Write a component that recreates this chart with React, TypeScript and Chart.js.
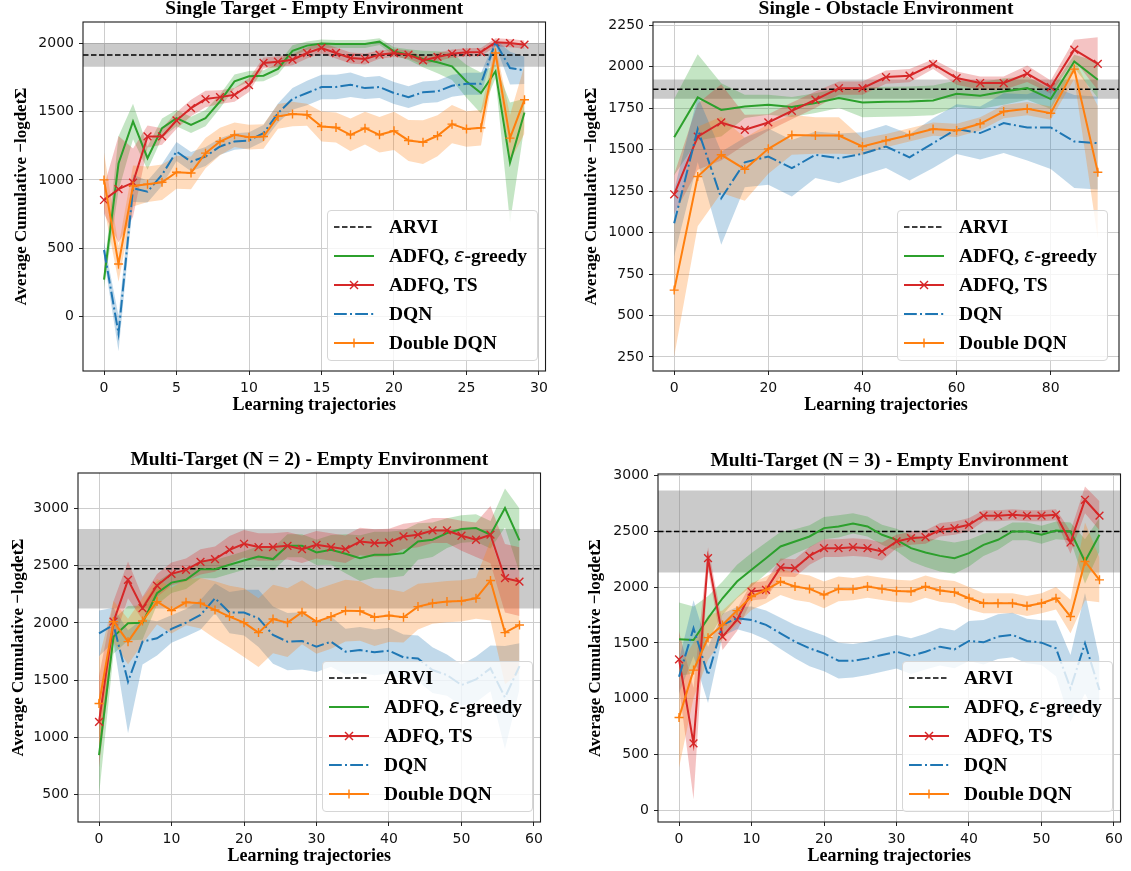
import React, { useEffect, useRef } from 'react';
import { Chart, registerables } from 'chart.js';
Chart.register(...registerables);

// ---------- shared labels ----------
const LEGEND_LABELS = ['ARVI', 'ADFQ, ε-greedy', 'ADFQ, TS', 'DQN', 'Double DQN'];
const X_TITLE = 'Learning trajectories';
const Y_TITLE = 'Average Cumulative −logdetΣ';

// ---------- Panel 1: Single Target - Empty Environment ----------
const P1_TITLE = 'Single Target - Empty Environment';
const P1_X = [0, 1, 2, 3, 4, 5, 6, 7, 8, 9, 10, 11, 12, 13, 14, 15, 16, 17, 18, 19, 20, 21, 22, 23, 24, 25, 26, 27, 28, 29];
const P1_GREEN = [270, 1120, 1428, 1159, 1379, 1452, 1403, 1452, 1575, 1721, 1758, 1763, 1812, 1945, 1983, 1998, 1995, 1995, 1995, 2012, 1941, 1917, 1885, 1861, 1831, 1721, 1636, 1795, 1127, 1494];
const P1_GREEN_SD = [60, 200, 130, 85, 70, 60, 60, 60, 50, 50, 40, 40, 40, 40, 30, 30, 30, 30, 30, 25, 30, 40, 60, 80, 100, 120, 150, 50, 440, 100];
const P1_RED = [853, 932, 980, 1318, 1318, 1435, 1526, 1592, 1606, 1623, 1694, 1856, 1865, 1880, 1929, 1966, 1929, 1892, 1885, 1917, 1929, 1917, 1875, 1900, 1924, 1934, 1936, 2007, 2002, 1990];
const P1_RED_SD = [100, 390, 250, 80, 60, 60, 60, 60, 50, 50, 50, 40, 40, 40, 40, 40, 40, 40, 40, 30, 30, 30, 30, 30, 30, 30, 30, 30, 30, 30];
const P1_BLUE = [487, -125, 939, 914, 1037, 1208, 1134, 1171, 1245, 1281, 1289, 1342, 1489, 1593, 1636, 1680, 1680, 1697, 1672, 1680, 1636, 1606, 1641, 1648, 1689, 1704, 1704, 2007, 1819, 1802];
const P1_BLUE_SD = [60, 130, 100, 80, 80, 70, 70, 70, 60, 60, 60, 60, 70, 80, 90, 90, 90, 90, 80, 80, 80, 80, 80, 80, 80, 80, 80, 20, 120, 100];
const P1_ORANGE = [1000, 384, 956, 968, 983, 1056, 1051, 1196, 1281, 1330, 1313, 1318, 1465, 1482, 1477, 1391, 1384, 1330, 1379, 1330, 1359, 1289, 1276, 1323, 1408, 1372, 1381, 1929, 1306, 1587];
const P1_ORANGE_SD = [200, 130, 150, 130, 130, 120, 120, 110, 100, 90, 90, 90, 90, 90, 80, 110, 110, 120, 120, 130, 140, 150, 160, 150, 140, 130, 130, 60, 170, 250];
const P1_ARVI = 1915;
const P1_ARVI_SD = 87;
const P1_X_TICKS = [0, 5, 10, 15, 20, 25, 30];
const P1_Y_TICKS = [0, 500, 1000, 1500, 2000];
const P1_X_RANGE = [-1.45, 30.45];
const P1_Y_RANGE = [-399, 2156];

// ---------- Panel 2: Single - Obstacle Environment ----------
const P2_TITLE = 'Single - Obstacle Environment';
const P2_X = [0, 5, 10, 15, 20, 25, 30, 35, 40, 45, 50, 55, 60, 65, 70, 75, 80, 85, 90];
const P2_GREEN = [1575, 1815, 1740, 1761, 1771, 1757, 1781, 1811, 1785, 1789, 1791, 1797, 1837, 1825, 1851, 1871, 1805, 2032, 1922];
const P2_GREEN_SD = [230, 260, 160, 70, 60, 60, 60, 60, 90, 90, 90, 90, 80, 80, 80, 70, 60, 40, 110];
const P2_RED = [1231, 1579, 1664, 1620, 1664, 1734, 1801, 1871, 1871, 1938, 1946, 2016, 1932, 1902, 1902, 1958, 1877, 2103, 2018];
const P2_RED_SD = [120, 200, 230, 90, 50, 50, 50, 40, 40, 40, 40, 30, 40, 40, 40, 50, 40, 60, 160];
const P2_BLUE = [1056, 1624, 1207, 1424, 1458, 1388, 1469, 1448, 1475, 1519, 1454, 1539, 1624, 1600, 1660, 1634, 1634, 1549, 1539];
const P2_BLUE_SD = [200, 200, 280, 150, 170, 170, 140, 150, 130, 130, 140, 150, 150, 160, 180, 200, 250, 280, 280];
const P2_ORANGE = [653, 1338, 1469, 1382, 1505, 1589, 1585, 1585, 1519, 1555, 1589, 1624, 1616, 1656, 1730, 1747, 1720, 1986, 1364];
const P2_ORANGE_SD = [400, 300, 230, 190, 150, 120, 110, 110, 50, 40, 40, 40, 40, 40, 40, 40, 40, 60, 400];
const P2_ARVI = 1865;
const P2_ARVI_SD = 58;
const P2_X_TICKS = [0, 20, 40, 60, 80];
const P2_Y_TICKS = [250, 500, 750, 1000, 1250, 1500, 1750, 2000, 2250];
const P2_X_RANGE = [-4.5, 94.5];
const P2_Y_RANGE = [165, 2270];

// ---------- Panel 3: Multi-Target (N = 2) ----------
const P3_TITLE = 'Multi-Target (N = 2) - Empty Environment';
const P3_X = [0, 2, 4, 6, 8, 10, 12, 14, 16, 18, 20, 22, 24, 26, 28, 30, 32, 34, 36, 38, 40, 42, 44, 46, 48, 50, 52, 54, 56, 58];
const P3_GREEN = [844, 1880, 1997, 2002, 2259, 2352, 2376, 2469, 2469, 2507, 2545, 2580, 2557, 2673, 2673, 2615, 2638, 2603, 2565, 2595, 2595, 2609, 2711, 2726, 2784, 2819, 2828, 2770, 3003, 2720];
const P3_GREEN_SD = [350, 150, 150, 150, 100, 90, 80, 80, 80, 80, 80, 90, 100, 100, 100, 110, 130, 170, 200, 200, 200, 200, 160, 150, 130, 120, 120, 120, 170, 280];
const P3_RED = [1136, 2011, 2376, 2128, 2326, 2428, 2463, 2533, 2557, 2638, 2691, 2662, 2662, 2673, 2644, 2682, 2662, 2644, 2711, 2697, 2702, 2755, 2770, 2807, 2807, 2761, 2726, 2770, 2390, 2361];
const P3_RED_SD = [400, 180, 160, 100, 100, 100, 100, 110, 110, 120, 120, 120, 120, 120, 120, 120, 120, 120, 120, 120, 120, 110, 110, 110, 110, 130, 150, 250, 300, 300];
const P3_BLUE = [1909, 1982, 1486, 1836, 1865, 1947, 2002, 2069, 2215, 2090, 2090, 2040, 1894, 1836, 1842, 1792, 1836, 1749, 1763, 1743, 1757, 1699, 1690, 1588, 1544, 1457, 1506, 1603, 1349, 1623];
const P3_BLUE_SD = [200, 150, 450, 200, 150, 120, 120, 130, 130, 180, 200, 250, 250, 250, 250, 220, 220, 200, 200, 200, 200, 200, 200, 200, 180, 180, 200, 200, 450, 200];
const P3_ORANGE = [1296, 2011, 1836, 2017, 2186, 2107, 2180, 2172, 2113, 2055, 2002, 1915, 2034, 2002, 2093, 2011, 2055, 2107, 2104, 2049, 2064, 2049, 2142, 2172, 2186, 2192, 2215, 2370, 1915, 1982];
const P3_ORANGE_SD = [400, 180, 200, 200, 200, 200, 200, 220, 250, 270, 300, 300, 300, 300, 280, 280, 280, 270, 260, 250, 230, 220, 200, 180, 180, 180, 180, 350, 450, 420];
const P3_ARVI = 2472;
const P3_ARVI_SD = 347;
const P3_X_TICKS = [0, 10, 20, 30, 40, 50, 60];
const P3_Y_TICKS = [500, 1000, 1500, 2000, 2500, 3000];
const P3_X_RANGE = [-2.9, 60.9];
const P3_Y_RANGE = [261, 3309];

// ---------- Panel 4: Multi-Target (N = 3) ----------
const P4_TITLE = 'Multi-Target (N = 3) - Empty Environment';
const P4_X = [0, 2, 4, 6, 8, 10, 12, 14, 16, 18, 20, 22, 24, 26, 28, 30, 32, 34, 36, 38, 40, 42, 44, 46, 48, 50, 52, 54, 56, 58];
const P4_GREEN = [1533, 1527, 1722, 1901, 2051, 2156, 2260, 2365, 2410, 2455, 2530, 2545, 2572, 2545, 2470, 2425, 2350, 2311, 2281, 2260, 2305, 2380, 2425, 2500, 2500, 2470, 2509, 2500, 2231, 2470];
const P4_GREEN_SD = [330, 300, 200, 150, 150, 150, 140, 130, 110, 100, 100, 100, 90, 90, 90, 100, 120, 130, 140, 140, 120, 100, 90, 80, 80, 80, 80, 80, 200, 150];
const P4_RED = [1353, 599, 2260, 1557, 1707, 1961, 1976, 2177, 2171, 2281, 2350, 2350, 2359, 2350, 2320, 2410, 2440, 2449, 2515, 2530, 2560, 2641, 2641, 2650, 2641, 2641, 2650, 2401, 2784, 2641];
const P4_RED_SD = [250, 500, 100, 120, 100, 80, 80, 80, 80, 80, 80, 80, 80, 80, 80, 60, 60, 60, 60, 60, 60, 50, 50, 50, 50, 50, 50, 100, 120, 130];
const P4_BLUE = [1198, 1632, 1213, 1662, 1722, 1707, 1662, 1587, 1512, 1452, 1407, 1341, 1340, 1362, 1392, 1422, 1383, 1422, 1467, 1443, 1518, 1506, 1557, 1572, 1518, 1503, 1452, 1093, 1497, 1078];
const P4_BLUE_SD = [150, 250, 250, 100, 100, 120, 130, 140, 150, 160, 160, 160, 150, 150, 150, 150, 160, 160, 170, 170, 180, 200, 200, 200, 200, 200, 250, 300, 450, 280];
const P4_ORANGE = [832, 1257, 1548, 1662, 1790, 1916, 1976, 2051, 2006, 1985, 1931, 1985, 1982, 2006, 1985, 1967, 1961, 2006, 1970, 1955, 1901, 1856, 1856, 1856, 1832, 1856, 1901, 1737, 2231, 2066];
const P4_ORANGE_SD = [450, 250, 200, 130, 120, 120, 120, 120, 120, 120, 120, 110, 100, 100, 100, 100, 100, 100, 100, 100, 100, 90, 90, 90, 90, 90, 100, 150, 350, 200];
const P4_ARVI = 2500;
const P4_ARVI_SD = 367;
const P4_X_TICKS = [0, 10, 20, 30, 40, 50, 60];
const P4_Y_TICKS = [0, 500, 1000, 1500, 2000, 2500, 3000];
const P4_X_RANGE = [-2.9, 60.9];
const P4_Y_RANGE = [-105, 3015];

// ---------- styles ----------
const C_GREEN = '#2ca02c';
const C_RED = '#d62728';
const C_BLUE = '#1f77b4';
const C_ORANGE = '#ff7f0e';
const BAND_ALPHA = 0.28;
const SERIF = '"Liberation Serif", "Times New Roman", serif';
const SANS = '"DejaVu Sans", sans-serif';

function rgba(hex: string, a: number) {
  const n = parseInt(hex.slice(1), 16);
  return `rgba(${(n >> 16) & 255},${(n >> 8) & 255},${n & 255},${a})`;
}

type PanelDef = {
  title: string;
  x: number[];
  green: number[]; greenSd: number[];
  red: number[]; redSd: number[];
  blue: number[]; blueSd: number[];
  orange: number[]; orangeSd: number[];
  arvi: number; arviSd: number;
  xTicks: number[]; yTicks: number[];
  xRange: number[]; yRange: number[];
  area: { L: number; T: number; R: number; B: number };
  yTitlePad: number;
};

const PANELS: PanelDef[] = [
  { title: P1_TITLE, x: P1_X, green: P1_GREEN, greenSd: P1_GREEN_SD, red: P1_RED, redSd: P1_RED_SD, blue: P1_BLUE, blueSd: P1_BLUE_SD, orange: P1_ORANGE, orangeSd: P1_ORANGE_SD, arvi: P1_ARVI, arviSd: P1_ARVI_SD, xTicks: P1_X_TICKS, yTicks: P1_Y_TICKS, xRange: P1_X_RANGE, yRange: P1_Y_RANGE, area: { L: 83, T: 22, R: 549, B: 371 }, yTitlePad: 10.8 },
  { title: P2_TITLE, x: P2_X, green: P2_GREEN, greenSd: P2_GREEN_SD, red: P2_RED, redSd: P2_RED_SD, blue: P2_BLUE, blueSd: P2_BLUE_SD, orange: P2_ORANGE, orangeSd: P2_ORANGE_SD, arvi: P2_ARVI, arviSd: P2_ARVI_SD, xTicks: P2_X_TICKS, yTicks: P2_Y_TICKS, xRange: P2_X_RANGE, yRange: P2_Y_RANGE, area: { L: 653, T: 22, R: 1119, B: 371 }, yTitlePad: 10.3 },
  { title: P3_TITLE, x: P3_X, green: P3_GREEN, greenSd: P3_GREEN_SD, red: P3_RED, redSd: P3_RED_SD, blue: P3_BLUE, blueSd: P3_BLUE_SD, orange: P3_ORANGE, orangeSd: P3_ORANGE_SD, arvi: P3_ARVI, arviSd: P3_ARVI_SD, xTicks: P3_X_TICKS, yTicks: P3_Y_TICKS, xRange: P3_X_RANGE, yRange: P3_Y_RANGE, area: { L: 78, T: 473, R: 544, B: 822 }, yTitlePad: 12.3 },
  { title: P4_TITLE, x: P4_X, green: P4_GREEN, greenSd: P4_GREEN_SD, red: P4_RED, redSd: P4_RED_SD, blue: P4_BLUE, blueSd: P4_BLUE_SD, orange: P4_ORANGE, orangeSd: P4_ORANGE_SD, arvi: P4_ARVI, arviSd: P4_ARVI_SD, xTicks: P4_X_TICKS, yTicks: P4_Y_TICKS, xRange: P4_X_RANGE, yRange: P4_Y_RANGE, area: { L: 658, T: 474, R: 1124, B: 822 }, yTitlePad: 9.8 },
];

const YW = 82; // y-axis box width
const XH = 45; // x-axis box height
const TH = 23; // title box height
const PR = 4; // right padding

const framePlugin = {
  id: 'frame',
  afterDraw(chart: any) {
    const { ctx, chartArea: a } = chart;
    ctx.save();
    ctx.strokeStyle = '#1a1a1a';
    ctx.lineWidth = 1.1;
    ctx.strokeRect(a.left, a.top, a.right - a.left, a.bottom - a.top);
    ctx.restore();
  },
};

function PanelChart({ p }: { p: PanelDef }) {
  const ref = useRef<HTMLCanvasElement>(null);
  const left = p.area.L - YW;
  const top = p.area.T - TH;
  const width = YW + (p.area.R - p.area.L) + PR;
  const height = TH + (p.area.B - p.area.T) + XH;

  useEffect(() => {
    if (!ref.current) return;
    const pts = (ys: number[]) => p.x.map((x, i) => ({ x, y: ys[i] }));
    const band = (mean: number[], sd: number[], color: string, order: number) => [
      {
        label: '_band_hi', data: p.x.map((x, i) => ({ x, y: mean[i] + sd[i] })),
        fill: '+1', backgroundColor: rgba(color, BAND_ALPHA), borderColor: 'transparent',
        borderWidth: 0, pointRadius: 0, order,
      },
      {
        label: '_band_lo', data: p.x.map((x, i) => ({ x, y: mean[i] - sd[i] })),
        fill: false, borderColor: 'transparent', borderWidth: 0, pointRadius: 0, order,
      },
    ];
    const flat = (v: number) => [{ x: p.xRange[0], y: v }, { x: p.xRange[1], y: v }];
    const datasets: any[] = [
      {
        label: '_arvi_hi', data: flat(p.arvi + p.arviSd), fill: '+1',
        backgroundColor: 'rgba(128,128,128,0.42)', borderColor: 'transparent', borderWidth: 0, pointRadius: 0, order: 30,
      },
      {
        label: '_arvi_lo', data: flat(p.arvi - p.arviSd), fill: false,
        borderColor: 'transparent', borderWidth: 0, pointRadius: 0, order: 30,
      },
      ...band(p.green, p.greenSd, C_GREEN, 25),
      ...band(p.red, p.redSd, C_RED, 24),
      ...band(p.blue, p.blueSd, C_BLUE, 23),
      ...band(p.orange, p.orangeSd, C_ORANGE, 22),
      {
        label: LEGEND_LABELS[0], data: flat(p.arvi), borderColor: '#000', borderWidth: 1.5,
        borderDash: [5.5, 2.5], pointRadius: 0, fill: false, order: 6,
      },
      {
        label: LEGEND_LABELS[1], data: pts(p.green), borderColor: C_GREEN, borderWidth: 2,
        pointRadius: 0, fill: false, order: 5,
      },
      {
        label: LEGEND_LABELS[2], data: pts(p.red), borderColor: C_RED, borderWidth: 2,
        pointStyle: 'crossRot', pointRadius: 5.5, pointBorderWidth: 1.4, pointBorderColor: C_RED,
        pointBackgroundColor: C_RED, fill: false, order: 4,
      },
      {
        label: LEGEND_LABELS[3], data: pts(p.blue), borderColor: C_BLUE, borderWidth: 2,
        borderDash: [12.8, 3.2, 2, 3.2], pointRadius: 0, fill: false, order: 3,
      },
      {
        label: LEGEND_LABELS[4], data: pts(p.orange), borderColor: C_ORANGE, borderWidth: 2,
        pointStyle: 'cross', pointRadius: 4.5, pointBorderWidth: 1.4, pointBorderColor: C_ORANGE,
        pointBackgroundColor: C_ORANGE, fill: false, order: 2,
      },
    ];

    const chart = new Chart(ref.current, {
      type: 'line',
      data: { datasets },
      plugins: [framePlugin],
      options: {
        responsive: false,
        animation: false,
        events: [],
        devicePixelRatio: 1,
        layout: { padding: { left: 0, top: 0, bottom: 0, right: PR }, autoPadding: false },
        elements: { line: { tension: 0 } },
        plugins: {
          legend: { display: false },
          tooltip: { enabled: false },
          title: {
            display: true, text: p.title, fullSize: false, color: '#000',
            font: { family: SERIF, weight: 'bold', size: 19.5, lineHeight: 1 },
            padding: { top: 0, bottom: TH - 19.5 },
          },
        },
        scales: {
          x: {
            type: 'linear', min: p.xRange[0], max: p.xRange[1],
            afterBuildTicks: (axis: any) => { axis.ticks = p.xTicks.map((value) => ({ value })); },
            afterFit: (axis: any) => { axis.height = XH; },
            ticks: {
              autoSkip: false, maxRotation: 0, padding: 5, color: '#111',
              font: { family: SANS, size: 14 },
              callback: (v: any) => String(v),
            },
            grid: { color: '#cdcdcd', lineWidth: 1, tickColor: '#222', tickLength: 4, tickWidth: 1 },
            border: { display: false },
            title: {
              display: true, text: X_TITLE, color: '#000',
              font: { family: SERIF, weight: 'bold', size: 18, lineHeight: 1.2 },
              padding: { top: 0, bottom: 0 },
            },
          },
          y: {
            type: 'linear', min: p.yRange[0], max: p.yRange[1],
            afterBuildTicks: (axis: any) => { axis.ticks = p.yTicks.map((value) => ({ value })); },
            afterFit: (axis: any) => { axis.width = YW; },
            ticks: {
              autoSkip: false, padding: 5, color: '#111',
              font: { family: SANS, size: 14 },
              callback: (v: any) => String(v),
            },
            grid: { color: '#cdcdcd', lineWidth: 1, tickColor: '#222', tickLength: 4, tickWidth: 1 },
            border: { display: false },
            title: {
              display: true, text: Y_TITLE, color: '#000',
              font: { family: SERIF, weight: 'bold', size: 17, lineHeight: 1.2 },
              padding: { top: p.yTitlePad, bottom: 0 },
            },
          },
        },
      } as any,
    });
    return () => chart.destroy();
  }, []);

  return (
    <canvas
      ref={ref}
      width={width}
      height={height}
      style={{ position: 'absolute', left, top, width, height }}
    />
  );
}

function LegendSample({ idx }: { idx: number }) {
  const y = 7;
  if (idx === 0) return <line x1={0} y1={y} x2={40} y2={y} stroke="#000" strokeWidth={1.5} strokeDasharray="5.5 2.5" />;
  if (idx === 1) return <line x1={0} y1={y} x2={40} y2={y} stroke={C_GREEN} strokeWidth={2} />;
  if (idx === 2)
    return (
      <g>
        <line x1={0} y1={y} x2={40} y2={y} stroke={C_RED} strokeWidth={2} />
        <line x1={16} y1={y - 4} x2={24} y2={y + 4} stroke={C_RED} strokeWidth={1.4} />
        <line x1={16} y1={y + 4} x2={24} y2={y - 4} stroke={C_RED} strokeWidth={1.4} />
      </g>
    );
  if (idx === 3) return <line x1={0} y1={y} x2={40} y2={y} stroke={C_BLUE} strokeWidth={2} strokeDasharray="12.8 3.2 2 3.2" />;
  return (
    <g>
      <line x1={0} y1={y} x2={40} y2={y} stroke={C_ORANGE} strokeWidth={2} />
      <line x1={20} y1={y - 4.5} x2={20} y2={y + 4.5} stroke={C_ORANGE} strokeWidth={1.4} />
    </g>
  );
}

function LegendLabel({ text }: { text: string }) {
  const parts = text.split('ε');
  if (parts.length === 1) return <>{text}</>;
  return (
    <>
      {parts[0]}
      <span style={{ fontFamily: SANS, fontStyle: 'italic', fontWeight: 'normal' }}>ε</span>
      {parts[1]}
    </>
  );
}

function Legend({ p }: { p: PanelDef }) {
  const w = 211;
  const h = 151;
  const left = p.area.R - 11 - w;
  const top = p.area.B - 10 - h;
  return (
    <div
      style={{
        position: 'absolute', left, top, width: w, height: h, boxSizing: 'border-box',
        border: '1px solid #d6d6d6', borderRadius: 4, background: 'rgba(255,255,255,0.8)', paddingTop: 1,
      }}
    >
      {LEGEND_LABELS.map((lab, i) => (
        <div key={lab} style={{ height: 29.2, display: 'flex', alignItems: 'center' }}>
          <svg width={40} height={14} style={{ marginLeft: 6, flex: 'none' }}>
            <LegendSample idx={i} />
          </svg>
          <span style={{ marginLeft: 15, font: `bold 19.5px ${SERIF}`, color: '#000', whiteSpace: 'nowrap' }}>
            <LegendLabel text={lab} />
          </span>
        </div>
      ))}
    </div>
  );
}

export default function App() {
  return (
    <div style={{ position: 'absolute', left: 0, top: 0, width: 1131, height: 871, background: '#fff', overflow: 'hidden' }}>
      {PANELS.map((p, i) => (
        <React.Fragment key={i}>
          <PanelChart p={p} />
          <Legend p={p} />
        </React.Fragment>
      ))}
    </div>
  );
}
